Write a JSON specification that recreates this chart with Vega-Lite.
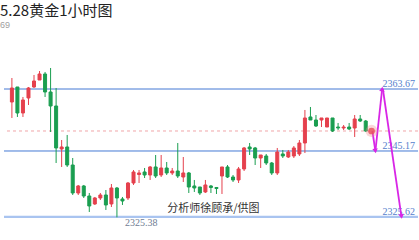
{
  "$schema": "https://vega.github.io/schema/vega-lite/v6.json",
  "width": 419,
  "height": 240,
  "autosize": {"type": "fit", "contains": "padding"},
  "padding": 0,
  "background": "white",
  "config": {"view": {"stroke": null}},
  "title": {
    "text": "5.28黄金1小时图",
    "subtitle": "69",
    "anchor": "start",
    "frame": "group",
    "offset": -30,
    "dx": -4,
    "font": "Noto Sans CJK SC",
    "fontSize": 15,
    "fontWeight": "normal",
    "color": "#222222",
    "subtitleFont": "Liberation Sans",
    "subtitleFontSize": 9,
    "subtitleColor": "#a0a0a0",
    "subtitlePadding": 2
  },
  "datasets": {
    "candles": [
      {"i":0,"o":2359.79,"h":2366.95,"l":2355.02,"c":2363.97},
      {"i":1,"o":2364.27,"h":2364.27,"l":2355.32,"c":2356.51},
      {"i":2,"o":2356.51,"h":2361.29,"l":2355.32,"c":2360.39},
      {"i":3,"o":2360.99,"h":2364.27,"l":2358.90,"c":2363.97},
      {"i":4,"o":2364.27,"h":2367.85,"l":2363.97,"c":2366.06},
      {"i":5,"o":2366.36,"h":2369.04,"l":2366.36,"c":2368.15},
      {"i":6,"o":2368.15,"h":2368.75,"l":2361.29,"c":2362.78},
      {"i":7,"o":2362.78,"h":2369.94,"l":2350.84,"c":2358.60},
      {"i":8,"o":2358.60,"h":2363.97,"l":2341.59,"c":2346.07},
      {"i":9,"o":2345.77,"h":2348.45,"l":2340.40,"c":2346.37},
      {"i":10,"o":2346.37,"h":2349.95,"l":2340.40,"c":2340.99},
      {"i":11,"o":2340.99,"h":2343.08,"l":2332.04,"c":2332.64},
      {"i":12,"o":2332.64,"h":2335.03,"l":2332.04,"c":2334.73},
      {"i":13,"o":2334.73,"h":2335.03,"l":2331.15,"c":2331.74},
      {"i":14,"o":2331.74,"h":2332.64,"l":2326.97,"c":2328.76},
      {"i":15,"o":2329.36,"h":2331.45,"l":2329.06,"c":2331.15},
      {"i":16,"o":2331.15,"h":2332.64,"l":2330.55,"c":2332.04},
      {"i":17,"o":2332.04,"h":2333.53,"l":2327.57,"c":2329.06},
      {"i":18,"o":2329.36,"h":2335.32,"l":2328.46,"c":2334.13},
      {"i":19,"o":2334.13,"h":2334.43,"l":2325.38,"c":2331.15},
      {"i":20,"o":2330.85,"h":2331.45,"l":2329.06,"c":2330.25},
      {"i":21,"o":2331.15,"h":2335.92,"l":2330.55,"c":2335.62},
      {"i":22,"o":2335.62,"h":2339.50,"l":2335.03,"c":2338.91},
      {"i":23,"o":2338.16,"h":2339.50,"l":2335.62,"c":2338.61},
      {"i":24,"o":2338.91,"h":2340.10,"l":2337.11,"c":2338.01},
      {"i":25,"o":2338.01,"h":2340.70,"l":2336.52,"c":2340.40},
      {"i":26,"o":2340.40,"h":2343.98,"l":2337.11,"c":2337.71},
      {"i":27,"o":2338.01,"h":2343.98,"l":2337.41,"c":2340.10},
      {"i":28,"o":2340.10,"h":2341.89,"l":2338.01,"c":2338.61},
      {"i":29,"o":2338.61,"h":2340.10,"l":2338.01,"c":2339.20},
      {"i":30,"o":2339.20,"h":2347.56,"l":2337.11,"c":2337.71},
      {"i":31,"o":2337.41,"h":2343.38,"l":2335.92,"c":2338.61},
      {"i":32,"o":2338.61,"h":2338.91,"l":2332.64,"c":2334.43},
      {"i":33,"o":2334.73,"h":2336.52,"l":2332.94,"c":2334.13},
      {"i":34,"o":2334.43,"h":2334.43,"l":2332.04,"c":2332.64},
      {"i":35,"o":2332.94,"h":2336.52,"l":2332.64,"c":2335.03},
      {"i":36,"o":2334.73,"h":2335.03,"l":2332.64,"c":2334.28},
      {"i":37,"o":2334.28,"h":2334.43,"l":2332.34,"c":2333.98},
      {"i":38,"o":2337.71,"h":2340.40,"l":2332.34,"c":2340.40},
      {"i":39,"o":2340.40,"h":2340.99,"l":2337.11,"c":2337.41},
      {"i":40,"o":2337.41,"h":2338.01,"l":2335.92,"c":2336.52},
      {"i":41,"o":2336.52,"h":2340.40,"l":2335.62,"c":2339.80},
      {"i":42,"o":2339.80,"h":2346.37,"l":2339.20,"c":2346.07},
      {"i":43,"o":2346.37,"h":2347.56,"l":2343.98,"c":2345.77},
      {"i":44,"o":2346.07,"h":2346.37,"l":2340.99,"c":2343.08},
      {"i":45,"o":2343.08,"h":2343.98,"l":2340.10,"c":2343.98},
      {"i":46,"o":2343.68,"h":2344.28,"l":2340.99,"c":2341.59},
      {"i":47,"o":2341.59,"h":2341.89,"l":2338.01,"c":2338.61},
      {"i":48,"o":2338.61,"h":2346.07,"l":2338.01,"c":2344.87},
      {"i":49,"o":2344.28,"h":2345.47,"l":2343.08,"c":2343.68},
      {"i":50,"o":2343.38,"h":2345.47,"l":2343.08,"c":2344.87},
      {"i":51,"o":2343.68,"h":2346.66,"l":2343.08,"c":2346.07},
      {"i":52,"o":2344.28,"h":2348.45,"l":2343.68,"c":2347.56},
      {"i":53,"o":2347.56,"h":2357.41,"l":2344.57,"c":2355.02},
      {"i":54,"o":2355.32,"h":2358.30,"l":2354.42,"c":2354.42},
      {"i":55,"o":2354.42,"h":2355.91,"l":2352.33,"c":2352.63},
      {"i":56,"o":2354.42,"h":2355.02,"l":2352.33,"c":2355.02},
      {"i":57,"o":2352.33,"h":2355.02,"l":2352.33,"c":2355.02},
      {"i":58,"o":2355.02,"h":2355.02,"l":2350.84,"c":2351.14},
      {"i":59,"o":2352.33,"h":2353.53,"l":2351.44,"c":2352.03},
      {"i":60,"o":2352.03,"h":2352.93,"l":2351.44,"c":2352.33},
      {"i":61,"o":2352.33,"h":2353.53,"l":2351.44,"c":2351.74},
      {"i":62,"o":2352.03,"h":2355.91,"l":2349.35,"c":2354.72},
      {"i":63,"o":2354.72,"h":2355.91,"l":2353.83,"c":2354.12},
      {"i":64,"o":2354.12,"h":2354.42,"l":2350.84,"c":2351.14}
    ],
    "levels": [{"p": 2363.67}, {"p": 2345.17}],
    "lows": [{"p": 2325.62}, {"p": 2325.38}],
    "path": [
      {"seg": "A", "k": 0, "i": 65.2, "p": 2351.14},
      {"seg": "A", "k": 1, "i": 65.75, "p": 2345.17},
      {"seg": "B", "k": 0, "i": 65.75, "p": 2345.17},
      {"seg": "B", "k": 1, "i": 66.97, "p": 2363.67},
      {"seg": "C", "k": 0, "i": 67.1, "p": 2363.67},
      {"seg": "C", "k": 1, "i": 70.46, "p": 2325.62}
    ]
  },
  "layer": [
    {
      "data": {"name": "levels"},
      "mark": {"type": "rule", "color": "#4479d4", "strokeWidth": 1},
      "encoding": {
        "y": {"field": "p", "type": "quantitative", "scale": {"domain": [2318.61, 2390.23], "zero": false, "nice": false}, "axis": null}
      }
    },
    {
      "data": {"name": "lows"},
      "mark": {"type": "rule", "color": "#a9c4f0", "strokeWidth": 1.5},
      "encoding": {
        "y": {"field": "p", "type": "quantitative", "scale": {"domain": [2318.61, 2390.23], "zero": false, "nice": false}, "axis": null}
      }
    },
    {
      "data": {"values": [{"p": 2351.14}]},
      "mark": {"type": "rule", "color": "#f0a5a8", "strokeWidth": 1, "strokeDash": [3, 3]},
      "encoding": {
        "y": {"field": "p", "type": "quantitative", "scale": {"domain": [2318.61, 2390.23], "zero": false, "nice": false}, "axis": null}
      }
    },
    {
      "data": {"name": "candles"},
      "mark": {"type": "rule", "strokeWidth": 1},
      "encoding": {
        "x": {"field": "i", "type": "quantitative", "scale": {"domain": [-0.523, 72.55], "zero": false, "nice": false}, "axis": null},
        "y": {"field": "l", "type": "quantitative", "scale": {"domain": [2318.61, 2390.23], "zero": false, "nice": false}, "axis": null},
        "y2": {"field": "h"},
        "color": {"condition": {"test": "datum.c >= datum.o", "value": "#e5404d"}, "value": "#1a9e50"}
      }
    },
    {
      "data": {"name": "candles"},
      "mark": {"type": "bar", "size": 3, "strokeWidth": 1},
      "encoding": {
        "x": {"field": "i", "type": "quantitative", "scale": {"domain": [-0.523, 72.55], "zero": false, "nice": false}, "axis": null},
        "y": {"field": "o", "type": "quantitative", "scale": {"domain": [2318.61, 2390.23], "zero": false, "nice": false}, "axis": null},
        "y2": {"field": "c"},
        "color": {"condition": {"test": "datum.c >= datum.o", "value": "#e5404d"}, "value": "#1a9e50"},
        "stroke": {"condition": {"test": "datum.c >= datum.o", "value": "#e5404d"}, "value": "#1a9e50"}
      }
    },
    {
      "data": {"name": "levels"},
      "mark": {"type": "text", "align": "right", "baseline": "alphabetic", "dx": -3, "dy": -2, "font": "Liberation Sans Narrow", "fontSize": 10, "color": "#5580cc"},
      "encoding": {
        "x": {"value": "width"},
        "y": {"field": "p", "type": "quantitative", "scale": {"domain": [2318.61, 2390.23], "zero": false, "nice": false}, "axis": null},
        "text": {"field": "p", "type": "quantitative", "format": ".2f"}
      }
    },
    {
      "data": {"name": "lows"},
      "transform": [{"filter": "datum.p > 2325.5"}],
      "mark": {"type": "text", "align": "right", "baseline": "alphabetic", "dx": -3, "dy": -2, "font": "Liberation Sans Narrow", "fontSize": 10, "color": "#5580cc"},
      "encoding": {
        "x": {"value": "width"},
        "y": {"field": "p", "type": "quantitative", "scale": {"domain": [2318.61, 2390.23], "zero": false, "nice": false}, "axis": null},
        "text": {"field": "p", "type": "quantitative", "format": ".2f"}
      }
    },
    {
      "data": {"name": "candles"},
      "transform": [{"filter": "datum.l < 2325.5"}],
      "mark": {"type": "text", "align": "left", "baseline": "top", "dx": 8, "dy": 1, "font": "Liberation Sans Narrow", "fontSize": 10, "color": "#6f7c93"},
      "encoding": {
        "x": {"field": "i", "type": "quantitative", "scale": {"domain": [-0.523, 72.55], "zero": false, "nice": false}, "axis": null},
        "y": {"field": "l", "type": "quantitative", "scale": {"domain": [2318.61, 2390.23], "zero": false, "nice": false}, "axis": null},
        "text": {"field": "l", "type": "quantitative", "format": ".2f"}
      }
    },
    {
      "data": {"name": "path"},
      "mark": {"type": "line", "color": "#d826e6", "strokeWidth": 1.8},
      "encoding": {
        "x": {"field": "i", "type": "quantitative", "scale": {"domain": [-0.523, 72.55], "zero": false, "nice": false}, "axis": null},
        "y": {"field": "p", "type": "quantitative", "scale": {"domain": [2318.61, 2390.23], "zero": false, "nice": false}, "axis": null},
        "detail": {"field": "seg"},
        "order": {"field": "k"}
      }
    },
    {
      "data": {"name": "path"},
      "transform": [{"filter": "datum.k == 1"}],
      "mark": {"type": "point", "filled": true, "color": "#d826e6", "size": 30, "opacity": 1},
      "encoding": {
        "x": {"field": "i", "type": "quantitative", "scale": {"domain": [-0.523, 72.55], "zero": false, "nice": false}, "axis": null},
        "y": {"field": "p", "type": "quantitative", "scale": {"domain": [2318.61, 2390.23], "zero": false, "nice": false}, "axis": null},
        "shape": {"condition": {"test": "datum.seg == 'B'", "value": "triangle-up"}, "value": "triangle-down"},
        "angle": {"condition": {"test": "datum.seg == 'B'", "value": 6}, "value": -9}
      }
    },
    {
      "data": {"values": [{"i": 65.05, "p": 2351.14}]},
      "mark": {"type": "point", "filled": true, "color": "#f28a8f", "size": 150, "opacity": 0.35},
      "encoding": {
        "x": {"field": "i", "type": "quantitative", "scale": {"domain": [-0.523, 72.55], "zero": false, "nice": false}, "axis": null},
        "y": {"field": "p", "type": "quantitative", "scale": {"domain": [2318.61, 2390.23], "zero": false, "nice": false}, "axis": null}
      }
    },
    {
      "data": {"values": [{"i": 65.05, "p": 2351.14}]},
      "mark": {"type": "point", "filled": true, "color": "#e84c57", "size": 45, "opacity": 0.8},
      "encoding": {
        "x": {"field": "i", "type": "quantitative", "scale": {"domain": [-0.523, 72.55], "zero": false, "nice": false}, "axis": null},
        "y": {"field": "p", "type": "quantitative", "scale": {"domain": [2318.61, 2390.23], "zero": false, "nice": false}, "axis": null}
      }
    },
    {
      "data": {"values": [{"t": "分析师徐顾承/供图"}]},
      "mark": {"type": "text", "align": "center", "baseline": "middle", "font": "Noto Sans CJK SC", "fontSize": 11, "color": "#333333"},
      "encoding": {
        "x": {"datum": 36.45, "type": "quantitative", "scale": {"domain": [-0.523, 72.55], "zero": false, "nice": false}, "axis": null},
        "y": {"datum": 2327.9, "type": "quantitative", "scale": {"domain": [2318.61, 2390.23], "zero": false, "nice": false}, "axis": null},
        "text": {"field": "t"}
      }
    }
  ]
}
